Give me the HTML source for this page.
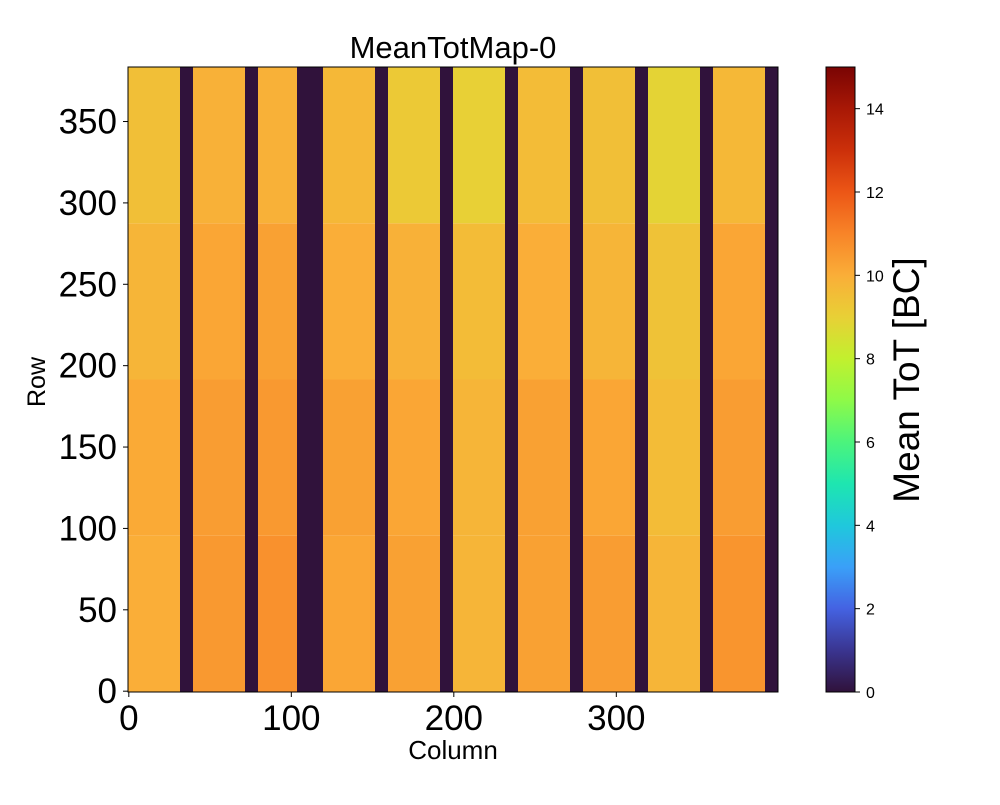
<!DOCTYPE html>
<html><head><meta charset="utf-8"><style>
body{margin:0;background:#fff;font-family:"Liberation Sans",sans-serif}
svg text{font-family:"Liberation Sans",sans-serif}
</style></head><body>
<svg id="chart" width="1000" height="800" xmlns="http://www.w3.org/2000/svg">
<text x="453" y="58" font-size="31" text-anchor="middle">MeanTotMap-0</text>
<g id="cells"></g>
<rect x="128" y="67" width="650" height="625" fill="none" stroke="#000" stroke-width="1"/>
<g id="xaxis"></g>
<g id="yaxis"></g>
<text x="453" y="759" font-size="26" text-anchor="middle">Column</text>
<text transform="translate(45,382) rotate(-90)" font-size="25" text-anchor="middle">Row</text>
<defs><linearGradient id="cbg" x1="0" y1="1" x2="0" y2="0"></linearGradient></defs>
<rect x="826" y="67" width="29" height="625" fill="url(#cbg)" stroke="#000" stroke-width="1"/>
<g id="cbaxis"></g>
<text transform="translate(919,380) rotate(-90)" font-size="37" text-anchor="middle">Mean ToT [BC]</text>
</svg>
<script>
// dead column ranges [start, end] inclusive
const deadStarts = [32, 72, 104, 152, 192, 232, 272, 312, 352, 392];
const deadEnds   = [39, 79, 119, 159, 199, 239, 279, 319, 359, 399];
// live blocks: column ranges
const liveStarts = [0, 40, 80, 120, 160, 200, 240, 280, 320, 360];
const liveEnds   = [31, 71, 103, 151, 191, 231, 271, 311, 351, 391];
// mean value per live block per row quarter (bottom -> top)
const blockMeans = [
  [10.0, 10.1, 9.8, 9.5],
  [10.5, 10.4, 10.2, 9.9],
  [10.7, 10.5, 10.3, 9.9],
  [10.2, 10.3, 10.0, 9.7],
  [10.3, 10.2, 9.9, 9.2],
  [9.8, 9.8, 9.6, 9.0],
  [10.3, 10.3, 10.0, 9.6],
  [10.4, 10.2, 9.8, 9.5],
  [9.8, 9.6, 9.4, 8.9],
  [10.6, 10.4, 10.2, 9.7]
];
const xTicks = [0, 100, 200, 300];
const yTicks = [0, 50, 100, 150, 200, 250, 300, 350];
const cbTicks = [0, 2, 4, 6, 8, 10, 12, 14];
const nCols = 400, nRows = 384, vmax = 15;

const X0 = 128, X1 = 778, Y0 = 692, Y1 = 67;
const sx = c => X0 + (c + 0.5) * (X1 - X0) / nCols;
const sy = r => Y0 - (r + 0.5) * (Y0 - Y1) / nRows;
const cw = (X1 - X0) / nCols, rh = (Y0 - Y1) / nRows;
const cmapStops = [[0,'#30123b'],[1/15,'#3a3590'],[2/15,'#4462e2'],[3/15,'#3aa0f8'],[4/15,'#1fc8dc'],[5/15,'#1ee6b0'],[6/15,'#4cf47c'],[7/15,'#8efa48'],[8/15,'#c2f02e'],[9/15,'#e8d036'],[10/15,'#faae38'],[11/15,'#f88428'],[12/15,'#ec5616'],[13/15,'#cc300a'],[14/15,'#a81806'],[1,'#7a0403']];
function hex(h){return [1,3,5].map(i=>parseInt(h.substr(i,2),16));}
function cmap(t){
  t=Math.max(0,Math.min(1,t));
  for(let i=1;i<cmapStops.length;i++){
    if(t<=cmapStops[i][0]){
      const a=cmapStops[i-1],b=cmapStops[i],f=(t-a[0])/(b[0]-a[0]);
      const A=hex(a[1]),B=hex(b[1]);
      return 'rgb('+A.map((v,k)=>Math.round(v+(B[k]-v)*f)).join(',')+')';
    }
  }
}
const NS='http://www.w3.org/2000/svg';
function mk(tag,attrs,parent){const e=document.createElementNS(NS,tag);for(const k in attrs)e.setAttribute(k,attrs[k]);parent.appendChild(e);return e;}
const cells=document.getElementById('cells');
const q=nRows/4;
blockMeans.forEach((row,b)=>{
  row.forEach((v,qi)=>{
    const r1=(qi+1)*q-1;
    const e=mk('rect',{x:sx(liveStarts[b])-cw/2,y:sy(r1)-rh/2,width:(liveEnds[b]-liveStarts[b]+1)*cw,height:q*rh,fill:cmap(v/vmax)},cells);
    
    
  });
});
deadStarts.forEach((s,i)=>{
  const e=mk('rect',{x:sx(s)-cw/2,y:Y1,width:(deadEnds[i]-s+1)*cw,height:Y0-Y1,fill:cmap(0)},cells);
  
  
});
const xa=document.getElementById('xaxis');
xTicks.forEach(t=>{
  const l=mk('line',{x1:sx(t),x2:sx(t),y1:Y0,y2:Y0+5,stroke:'#000'},xa);
  
  
  const tx=mk('text',{x:sx(t),y:Y0+38,'font-size':35,'text-anchor':'middle'},xa);tx.textContent=t;
  
  
});
const ya=document.getElementById('yaxis');
yTicks.forEach(t=>{
  const l=mk('line',{x1:X0-5,x2:X0,y1:sy(t),y2:sy(t),stroke:'#000'},ya);
  
  
  const tx=mk('text',{x:X0-11,y:sy(t)+12,'font-size':35,'text-anchor':'end'},ya);tx.textContent=t;
  
  
});
const g=document.getElementById('cbg');
cmapStops.forEach(s=>mk('stop',{offset:s[0],'stop-color':s[1]},g));
const cba=document.getElementById('cbaxis');
cbTicks.forEach(t=>{
  const y=692-t/vmax*625;
  const l=mk('line',{x1:855,x2:860,y1:y,y2:y,stroke:'#000'},cba);
  
  
  const tx=mk('text',{x:866,y:y+6,'font-size':16},cba);tx.textContent=t;
  
  
});
</script>
</body></html>
